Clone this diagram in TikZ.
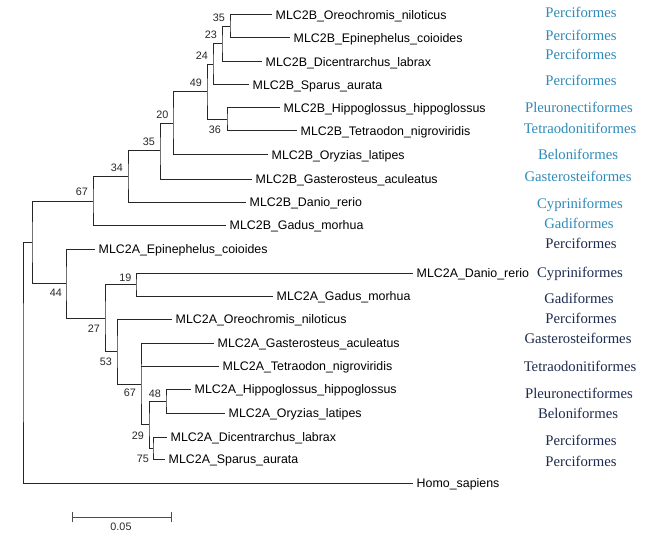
\documentclass[tikz,border=0pt]{standalone}
\usepackage{fontspec}
\setmainfont{Liberation Sans}
\newfontfamily\orderfont{Liberation Serif}
\usetikzlibrary{positioning,arrows.meta}
\definecolor{ordteal}{HTML}{2E8AB8}
\definecolor{ordnavy}{HTML}{1E2B4F}
\tikzset{
    branch/.style={line width=1pt, black!85},
    leaf/.style={anchor=west, inner ysep=2pt, inner xsep=3.5pt, text height=9pt, text depth=0pt,
        font=\fontsize{12.4}{14}\selectfont},
    boot/.style={inner sep=0pt, font=\fontsize{10.8}{12}\selectfont, black!85},
    ordB/.style={inner sep=0pt, text height=10pt, text depth=0pt, text=ordteal,
        font=\orderfont\fontsize{14.7}{16}\selectfont},
    ordA/.style={ordB, text=ordnavy},
}
\begin{document}
\begin{tikzpicture}[x=1pt, y=-1pt]
    \useasboundingbox (0,0) rectangle (655,540);

    % leaves, MLC2B clade
    \node[leaf] (oreoB)  at (272, 15)  {MLC2B\_Oreochromis\_niloticus};
    \node[leaf] (epiB)   at (290, 38)  {MLC2B\_Epinephelus\_coioides};
    \node[leaf] (dicB)   at (262, 62)  {MLC2B\_Dicentrarchus\_labrax};
    \node[leaf] (sparB)  at (249, 85)  {MLC2B\_Sparus\_aurata};
    \node[leaf] (hippoB) at (280, 108) {MLC2B\_Hippoglossus\_hippoglossus};
    \node[leaf] (tetraB) at (297, 131) {MLC2B\_Tetraodon\_nigroviridis};
    \node[leaf] (oryzB)  at (268, 155) {MLC2B\_Oryzias\_latipes};
    \node[leaf] (gastB)  at (252, 179) {MLC2B\_Gasterosteus\_aculeatus};
    \node[leaf] (danioB) at (246, 202) {MLC2B\_Danio\_rerio};
    \node[leaf] (gadusB) at (226, 225) {MLC2B\_Gadus\_morhua};

    % leaves, MLC2A clade
    \node[leaf] (epiA)   at (95, 249)  {MLC2A\_Epinephelus\_coioides};
    \node[leaf] (danioA) at (413, 273) {MLC2A\_Danio\_rerio};
    \node[leaf] (gadusA) at (273, 296) {MLC2A\_Gadus\_morhua};
    \node[leaf] (oreoA)  at (172, 319) {MLC2A\_Oreochromis\_niloticus};
    \node[leaf] (gastA)  at (214, 343) {MLC2A\_Gasterosteus\_aculeatus};
    \node[leaf] (tetraA) at (219, 366) {MLC2A\_Tetraodon\_nigroviridis};
    \node[leaf] (hippoA) at (191, 389) {MLC2A\_Hippoglossus\_hippoglossus};
    \node[leaf] (oryzA)  at (225, 413) {MLC2A\_Oryzias\_latipes};
    \node[leaf] (dicA)   at (167, 437) {MLC2A\_Dicentrarchus\_labrax};
    \node[leaf] (sparA)  at (165, 459) {MLC2A\_Sparus\_aurata};
    \node[leaf] (homo)   at (413, 483) {Homo\_sapiens};

    % inner nodes
    \coordinate (nB35)  at (230, 26.5);
    \coordinate (nB23)  at (222, 44);
    \coordinate (nB24)  at (213, 64.5);
    \coordinate (nB36)  at (227, 119.5);
    \coordinate (nB49)  at (207, 92);
    \coordinate (nB20)  at (173, 123.5);
    \coordinate (nB35b) at (160, 151);
    \coordinate (nB34)  at (128, 176.5);
    \coordinate (nB67)  at (93, 201);
    \coordinate (nA19)  at (136, 284.5);
    \coordinate (nA48)  at (166, 401);
    \coordinate (nA75)  at (153, 448);
    \coordinate (nA29)  at (149, 424.5);
    \coordinate (nA67)  at (141, 384);
    \coordinate (nA53)  at (117, 351.5);
    \coordinate (nA27)  at (105, 318);
    \coordinate (nA44)  at (66, 283.5);
    \coordinate (nFish) at (32, 242);
    \coordinate (root)  at (23, 362.5);

    % branches
    \draw[branch] (oreoB.west) -| (nB35) |- (epiB.west);
    \draw[branch] (nB35) -| (nB23) |- (dicB.west);
    \draw[branch] (nB23) -| (nB24) |- (sparB.west);
    \draw[branch] (hippoB.west) -| (nB36) |- (tetraB.west);
    \draw[branch] (nB24) -| (nB49) |- (nB36);
    \draw[branch] (nB49) -| (nB20) |- (oryzB.west);
    \draw[branch] (nB20) -| (nB35b) |- (gastB.west);
    \draw[branch] (nB35b) -| (nB34) |- (danioB.west);
    \draw[branch] (nB34) -| (nB67) |- (gadusB.west);

    \draw[branch] (danioA.west) -| (nA19) |- (gadusA.west);
    \draw[branch] (hippoA.west) -| (nA48) |- (oryzA.west);
    \draw[branch] (dicA.west) -| (nA75) |- (sparA.west);
    \draw[branch] (nA48) -| (nA29) |- (nA75);
    \draw[branch] (gastA.west) -| (nA67) |- (nA29);
    \draw[branch] (nA67 |- tetraA.west) -- (tetraA.west);
    \draw[branch] (oreoA.west) -| (nA53) |- (nA67);
    \draw[branch] (nA19) -| (nA27) |- (nA53);
    \draw[branch] (epiA.west) -| (nA44) |- (nA27);

    \draw[branch] (nB67) -| (nFish) |- (nA44);
    \draw[branch] (nFish) -| (root) |- (homo.west);

    % bootstrap values
    \node[boot, above left=5pt and 5pt of nB35]    (bB35)  {35};
    \node[boot, above left=5pt and 5pt of nB23]    (bB23)  {23};
    \node[boot, above left=5pt and 5pt of nB24]    (bB24)  {24};
    \node[boot, above left=5pt and 5pt of nB49]    (bB49)  {49};
    \node[boot, below left=6pt and 6pt of nB36]    (bB36)  {36};
    \node[boot, above left=5pt and 4.5pt of nB20]  (bB20)  {20};
    \node[boot, above left=5pt and 5pt of nB35b]   (bB35b) {35};
    \node[boot, above left=5pt and 5pt of nB34]    (bB34)  {34};
    \node[boot, above left=5pt and 5pt of nB67]    (bB67)  {67};
    \node[boot, above left=3pt and 4.5pt of nA19]  (bA19)  {19};
    \node[boot, above left=3.5pt and 5pt of nA48]  (bA48)  {48};
    \node[boot, below left=5.5pt and 4pt of nA44]  (bA44)  {44};
    \node[boot, below left=7pt and 5pt of nA27]    (bA27)  {27};
    \node[boot, below left=6.5pt and 5pt of nA53]  (bA53)  {53};
    \node[boot, below left=5pt and 5pt of nA67]    (bA67)  {67};
    \node[boot, below left=7.5pt and 5pt of nA29]  (bA29)  {29};
    \node[boot, below left=7pt and 4pt of nA75]    (bA75)  {75};

    % orders
    \node[ordB] (oB1)  at (581, 13)  {Perciformes};
    \node[ordB] (oB2)  at (581, 36)  {Perciformes};
    \node[ordB] (oB3)  at (581, 55)  {Perciformes};
    \node[ordB] (oB4)  at (581, 81)  {Perciformes};
    \node[ordB] (oB5)  at (579, 108) {Pleuronectiformes};
    \node[ordB] (oB6)  at (580, 129) {Tetraodonitiformes};
    \node[ordB] (oB7)  at (578, 155) {Beloniformes};
    \node[ordB] (oB8)  at (578, 176) {Gasterosteiformes};
    \node[ordB] (oB9)  at (580, 203) {Cypriniformes};
    \node[ordB] (oB10) at (579, 223) {Gadiformes};

    \node[ordA] (oA1)  at (581, 243) {Perciformes};
    \node[ordA] (oA2)  at (580, 272) {Cypriniformes};
    \node[ordA] (oA3)  at (579, 298) {Gadiformes};
    \node[ordA] (oA4)  at (581, 318) {Perciformes};
    \node[ordA] (oA5)  at (578, 338) {Gasterosteiformes};
    \node[ordA] (oA6)  at (580, 366) {Tetraodonitiformes};
    \node[ordA] (oA7)  at (579, 393) {Pleuronectiformes};
    \node[ordA] (oA8)  at (578, 413) {Beloniformes};
    \node[ordA] (oA9)  at (581, 440) {Perciformes};
    \node[ordA] (oA10) at (581, 461) {Perciformes};

    % scale bar
    \coordinate (barL) at (72, 517);
    \coordinate (barR) at (172, 517);
    \draw[branch, black!70, {Bar[width=10pt]}-{Bar[width=10pt]}] (barL) -- (barR);
    \node[boot] (barlab) at (121, 527) {0.05};
\end{tikzpicture}
\end{document}
